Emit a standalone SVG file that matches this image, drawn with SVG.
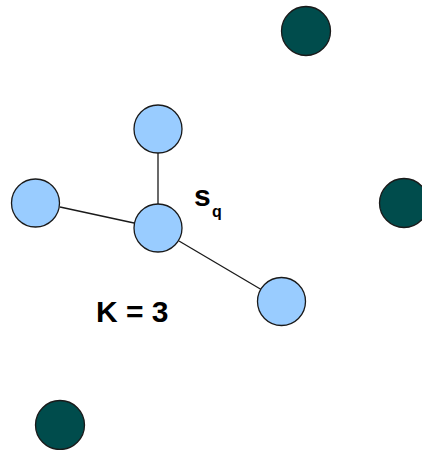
<svg xmlns="http://www.w3.org/2000/svg" width="422" height="450" viewBox="0 0 422 450">
<style>
.q{fill:#99ccff;stroke:#1a1a1a;stroke-width:1.3}
.d{fill:#004c4c;stroke:#1a1a1a;stroke-width:1.3}
.e{stroke:#1a1a1a;stroke-width:1.3;fill:none}
.t{font-family:"Liberation Sans",Arial,sans-serif;font-weight:bold;fill:#000}
</style>
<rect width="422" height="450" fill="#fff"/>
<g id="connectors">
<line class="e" x1="158" y1="153" x2="158" y2="204"/>
<line class="e" x1="60" y1="207" x2="134" y2="223"/>
<line class="e" x1="179" y1="241" x2="262" y2="290"/>
</g>
<g id="n_top"><circle class="q" cx="158" cy="129" r="24"/></g>
<g id="n_left"><circle class="q" cx="35.5" cy="203" r="24"/></g>
<g id="n_center"><circle class="q" cx="158" cy="228" r="24"/></g>
<g id="n_right"><circle class="q" cx="281.5" cy="301.5" r="24"/></g>
<g id="d_top"><circle class="d" cx="306" cy="31" r="24.5"/></g>
<g id="d_right"><circle class="d" cx="404" cy="203" r="24.5"/></g>
<g id="d_bottom"><circle class="d" cx="60" cy="425" r="24.5"/></g>
<g id="label_sq"><text class="t" x="194" y="206" font-size="30">s</text><text class="t" x="212" y="217" font-size="16">q</text></g>
<g id="label_k"><text class="t" x="96" y="322" font-size="30">K = 3</text></g>
</svg>
